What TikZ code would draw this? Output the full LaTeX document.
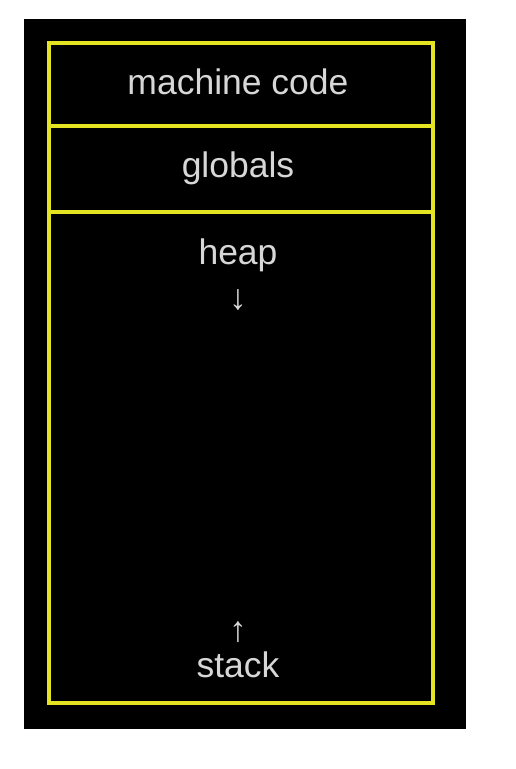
\documentclass[tikz,border=0pt]{standalone}
\usepackage{fontspec}
\setmainfont{Liberation Sans}
\definecolor{memyellow}{RGB}{228,228,34}
\definecolor{memtext}{RGB}{215,215,215}
\begin{document}
\begin{tikzpicture}[x=1pt,y=1pt,line cap=butt,line join=miter]
\tikzset{seg/.style={draw=memyellow,line width=4pt},
lbl/.style={text=memtext,anchor=base,inner sep=0pt,font=\fontsize{35.5}{40}\selectfont}
}
\useasboundingbox (0,0) rectangle (515,769);
\fill[white] (0,0) rectangle (515,769);
\fill[black] (24,40) rectangle (466,750);
\draw[seg] (49,66) rectangle (433,726);
\draw[seg] (49,643)--(433,643);
\draw[seg] (49,557)--(433,557);
\node[lbl] (code) at (238,674) {machine code};
\node[lbl] (glob) at (238,591) {globals};
\node[lbl] (heap) at (238,504) {heap};
\node[lbl] (down) at (238,459) {↓};
\node[lbl] (up) at (238,127) {↑};
\node[lbl] (stack) at (238,91) {stack};
\end{tikzpicture}
\end{document}
